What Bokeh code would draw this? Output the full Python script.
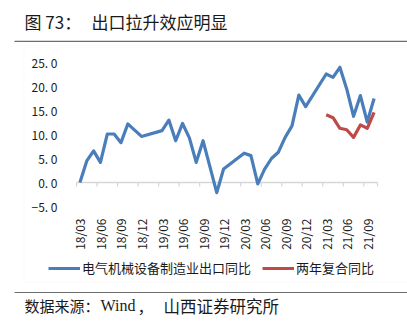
from math import pi
from bokeh.plotting import figure
from bokeh.models import (Range1d, FixedTicker, LinearAxis, Label, Legend, LegendItem,
                          BoxAnnotation, ColumnDataSource)
from bokeh.embed import file_html
from bokeh.resources import INLINE

# ---------------- data ----------------
months = ["18/03", "18/04", "18/05", "18/06", "18/07", "18/08", "18/09", "18/10", "18/11", "18/12",
          "19/03", "19/04", "19/05", "19/06", "19/07", "19/08", "19/09", "19/10", "19/11", "19/12",
          "20/03", "20/04", "20/05", "20/06", "20/07", "20/08", "20/09", "20/10", "20/11", "20/12",
          "21/03", "21/04", "21/05", "21/06", "21/07", "21/08", "21/09", "21/10"]
export_yoy = [0.0, 4.5, 6.6, 4.2, 10.1, 10.1, 8.3, 12.2, 10.9, 9.6,
              10.8, 13.0, 8.7, 12.3, 9.3, 4.2, 8.7, 3.3, -2.1, 2.8,
              6.1, 5.6, -0.3, 2.8, 5.0, 6.3, 9.4, 11.8, 18.2, 15.8,
              22.6, 21.9, 24.0, 19.5, 13.8, 18.1, 12.6, 17.5]
months2 = ["21/03", "21/04", "21/05", "21/06", "21/07", "21/08", "21/09", "21/10"]
two_year_cagr = [14.1, 13.5, 11.3, 11.0, 9.4, 12.0, 11.3, 14.6]

x_tick_labels = ["18/03", "18/06", "18/09", "18/12", "19/03", "19/06", "19/09", "19/12",
                 "20/03", "20/06", "20/09", "20/12", "21/03", "21/06", "21/09"]
y_ticks = [-5, 0, 5, 10, 15, 20, 25]
y_tick_labels = ["\u22125. 0", "0. 0", "5. 0", "10. 0", "15. 0", "20. 0", "25. 0"]

series1_name = "电气机械设备制造业出口同比"
series2_name = "两年复合同比"
title_no = "图 73："
title_text = "出口拉升效应明显"
source_parts = ["数据来源：", "Wind", "，", "山西证券研究所"]


def idx(m):
    yy, mm = m.split("/")
    return (int(yy) - 18) * 12 + (int(mm) - 3)


x1 = [idx(m) for m in months]
x2 = [idx(m) for m in months2]
xt = [idx(m) for m in x_tick_labels]

BLUE = "#4A7EBB"
RED = "#BE4B48"
FONT = "Noto Sans CJK SC"
SERIF = "Liberation Serif"
TXT = "#1a1a1a"
RULE = "#6E6E6E"
ZERO = "#D6D6D6"

W, H = 407, 325
# plot area in canvas pixels
PL, PR, PT, PB = 76, 377, 62, 206
xlo, xhi = min(x1) - 0.5, max(x1) + 0.5
ylo, yhi = min(y_ticks), max(y_ticks)
sx = (PR - PL) / (xhi - xlo)
sy = (PB - PT) / (yhi - ylo)


def cx(px):   # canvas px -> data x
    return xlo + (px - PL) / sx


def cy(py):   # canvas px -> data y
    return yhi - (py - PT) / sy


p = figure(width=W, height=H, output_backend="svg", toolbar_location=None,
           x_range=Range1d(cx(0), cx(W)), y_range=Range1d(cy(H), cy(0)),
           min_border=0, x_axis_type=None, y_axis_type=None,
           outline_line_color=None, background_fill_color="white")
p.grid.visible = False

# faint chart-area border
p.add_layout(BoxAnnotation(left=cx(23.5), right=cx(W + 5), top=cy(44.5), bottom=cy(281.5),
                           fill_alpha=0, line_color="#EEEEEE", line_width=1))

# y axis (labels only)
yax = LinearAxis(fixed_location=xlo, bounds=(ylo, yhi), ticker=FixedTicker(ticks=y_ticks),
                 major_label_overrides={t: s for t, s in zip(y_ticks, y_tick_labels)},
                 axis_line_color=None, major_tick_line_color=None, minor_tick_line_color=None,
                 major_label_text_font=FONT, major_label_text_font_size="12px",
                 major_label_text_color=TXT, major_label_standoff=13)
p.add_layout(yax, "left")

# x axis labels at the bottom of the plot area
xax = LinearAxis(fixed_location=ylo, bounds=(xlo, xhi), ticker=FixedTicker(ticks=xt),
                 major_label_overrides={t: s for t, s in zip(xt, x_tick_labels)},
                 axis_line_color=None, major_tick_line_color=None, minor_tick_line_color=None,
                 major_label_orientation=pi / 2, major_label_text_font=FONT,
                 major_label_text_font_size="12px", major_label_text_color=TXT,
                 major_label_standoff=6)
p.add_layout(xax, "below")

# zero (category) axis line with boundary ticks, drawn from the category bounds
bticks = [t - 0.5 for t in xt] + [xhi]
tick_len = 4 / sy
p.line(x=[xlo, xhi], y=[0, 0], line_color=ZERO, line_width=1.5)
p.segment(x0=bticks, y0=[0] * len(bticks), x1=bticks, y1=[-tick_len] * len(bticks),
          line_color=ZERO, line_width=1.2)

src1 = ColumnDataSource(dict(x=x1, y=export_yoy))
src2 = ColumnDataSource(dict(x=x2, y=two_year_cagr))
r1 = p.line("x", "y", source=src1, line_color=BLUE, line_width=3.2, line_join="round")
r2 = p.line("x", "y", source=src2, line_color=RED, line_width=3.2, line_join="round")

legend = Legend(items=[LegendItem(label=series1_name, renderers=[r1]),
                       LegendItem(label=series2_name, renderers=[r2])],
                orientation="horizontal", location=(48, H - 268 - 9),
                glyph_width=32, glyph_height=18, label_height=18, label_standoff=2, spacing=11,
                label_text_font=FONT, label_text_font_size="13px",
                label_text_color=TXT, background_fill_alpha=0,
                border_line_color=None, padding=0, margin=0)
p.add_layout(legend, "center")

# title and rule
p.add_layout(Label(x=cx(24), y=cy(21), text=title_no, text_font=FONT, text_font_size="17px",
                   text_color=TXT, text_baseline="middle"))
p.add_layout(Label(x=cx(91), y=cy(21), text=title_text, text_font=FONT, text_font_size="17px",
                   text_color=TXT, text_baseline="middle"))
p.add_layout(BoxAnnotation(left=cx(14), right=cx(W), top=cy(40.2), bottom=cy(41.4),
                           fill_color=RULE, fill_alpha=1, line_color=None))

# source rule and text
p.add_layout(BoxAnnotation(left=cx(14), right=cx(W), top=cy(291.4), bottom=cy(292.6),
                           fill_color=RULE, fill_alpha=1, line_color=None))
src_x = [24, 100, 137, 163]
src_font = [FONT, SERIF, FONT, FONT]
src_size = ["15px", "16px", "16px", "16.5px"]
for t, px, f, s in zip(source_parts, src_x, src_font, src_size):
    p.add_layout(Label(x=cx(px), y=cy(305), text=t, text_font=f, text_font_size=s,
                       text_color=TXT, text_baseline="middle"))

open("out.html", "w").write(file_html(p, INLINE))
